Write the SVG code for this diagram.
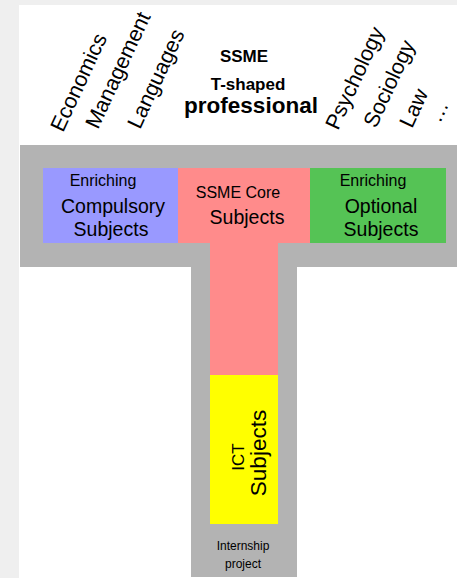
<svg xmlns="http://www.w3.org/2000/svg" width="457" height="578" viewBox="0 0 457 578">
<style>
text{font-family:"Liberation Sans",Arial,sans-serif;fill:#000}
.r{font-size:21.5px}
.b{font-weight:bold}
.c{text-anchor:middle}
.gray{fill:#b3b3b3}
</style>
<rect x="0" y="0" width="457" height="578" fill="#efefef"/>
<rect x="19" y="5" width="438" height="573" fill="#ffffff"/>
<g id="heading">
<text class="b c" x="244" y="62" font-size="17">SSME</text>
<text class="b c" x="248" y="90" font-size="17">T-shaped</text>
<text class="b c" x="251" y="113" font-size="22.5">professional</text>
</g>
<g id="labels">
<text class="r" transform="translate(63,133) rotate(-65)">Economics</text>
<text class="r" transform="translate(98,130) rotate(-65)">Management</text>
<text class="r" transform="translate(140,130) rotate(-65)">Languages</text>
<text class="r" transform="translate(338,131) rotate(-65)">Psychology</text>
<text class="r" transform="translate(376,129) rotate(-65)">Sociology</text>
<text class="r" transform="translate(412,129) rotate(-65)">Law</text>
<text class="r" transform="translate(440,124) rotate(-65)">…</text>
</g>
<g id="frame">
<rect class="gray" x="20" y="145" width="437" height="122"/>
<rect class="gray" x="191" y="267" width="106" height="310"/>
</g>
<g id="core">
<rect x="178" y="168" width="132" height="75" fill="#ff8b8b"/>
<rect x="210" y="243" width="68" height="132" fill="#ff8b8b"/>
<text class="c" x="238" y="198" font-size="16">SSME Core</text>
<text class="c" x="247" y="224" font-size="19.5">Subjects</text>
</g>
<g id="compulsory">
<rect x="43" y="168" width="135" height="75" fill="#9999ff"/>
<text class="c" x="103" y="186" font-size="16">Enriching</text>
<text class="c" x="113" y="213" font-size="19.5">Compulsory</text>
<text class="c" x="111" y="236" font-size="19.5">Subjects</text>
</g>
<g id="optional">
<rect x="310" y="168" width="136" height="75" fill="#55c355"/>
<text class="c" x="373" y="186" font-size="16">Enriching</text>
<text class="c" x="381" y="213" font-size="19.5">Optional</text>
<text class="c" x="381" y="236" font-size="19.5">Subjects</text>
</g>
<g id="ict">
<rect x="210" y="375" width="68" height="149" fill="#ffff00"/>
<text class="c" font-size="17" transform="translate(244,457) rotate(-90)">ICT</text>
<text class="c" font-size="22.5" transform="translate(266,453) rotate(-90)">Subjects</text>
</g>
<g id="internship">
<text class="c" x="243" y="550" font-size="12">Internship</text>
<text class="c" x="243" y="568" font-size="12">project</text>
</g>
</svg>
